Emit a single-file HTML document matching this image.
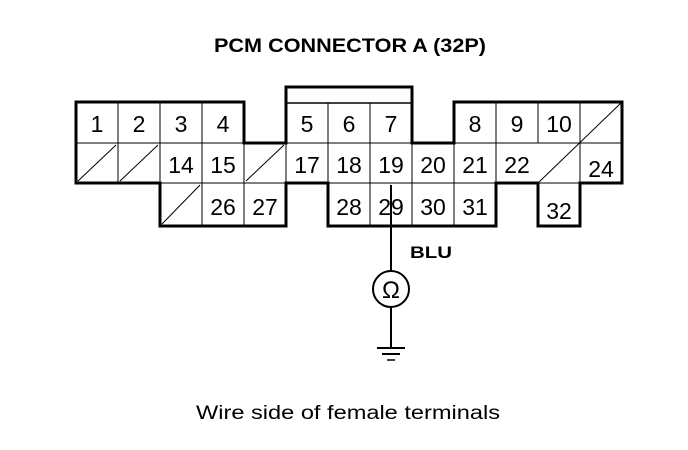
<!DOCTYPE html>
<html><head><style>
body{margin:0;background:#fff}
svg{display:block}
text{font-family:"Liberation Sans",sans-serif}
</style></head><body>
<svg width="688" height="450" viewBox="0 0 688 450">
<rect width="688" height="450" fill="#fff"/>
<text x="350" y="52" text-anchor="middle" font-size="19" font-weight="bold" textLength="272" lengthAdjust="spacingAndGlyphs">PCM CONNECTOR A (32P)</text>
<g stroke="#000" stroke-width="1" fill="none">
<line x1="76" y1="143" x2="244" y2="143"/><line x1="286" y1="143" x2="412" y2="143"/><line x1="454" y1="143" x2="622" y2="143"/>
<line x1="160" y1="183" x2="286" y2="183"/><line x1="328" y1="183" x2="496" y2="183"/><line x1="538" y1="183" x2="580" y2="183"/>
<line x1="286" y1="103" x2="412" y2="103"/>
<line x1="118" y1="102" x2="118" y2="183"/><line x1="160" y1="102" x2="160" y2="183"/><line x1="202" y1="102" x2="202" y2="226"/>
<line x1="244" y1="143" x2="244" y2="226"/><line x1="286" y1="143" x2="286" y2="183"/>
<line x1="328" y1="103" x2="328" y2="226"/><line x1="370" y1="103" x2="370" y2="226"/>
<line x1="412" y1="143" x2="412" y2="226"/><line x1="454" y1="143" x2="454" y2="226"/>
<line x1="496" y1="102" x2="496" y2="183"/><line x1="538" y1="102" x2="538" y2="143"/>
<line x1="580" y1="102" x2="580" y2="143"/><line x1="580" y1="143" x2="580" y2="183"/>
<line x1="78" y1="181" x2="116" y2="145"/><line x1="120" y1="181" x2="158" y2="145"/>
<line x1="246" y1="181" x2="284" y2="145"/><line x1="162" y1="224" x2="200" y2="185"/>
<line x1="538" y1="183" x2="622" y2="102"/>
</g>
<path d="M76 102 H244 V143 H286 V87 H412 V143 H454 V102 H622 V183 H580 V226 H538 V183 H496 V226 H328 V183 H286 V226 H160 V183 H76 Z" fill="none" stroke="#000" stroke-width="3"/>
<line x1="286" y1="103" x2="412" y2="103" stroke="#000" stroke-width="1.5"/>
<g font-size="23" text-anchor="middle">
<text x="97" y="132">1</text><text x="139" y="132">2</text><text x="181" y="132">3</text><text x="223" y="132">4</text>
<text x="307" y="132">5</text><text x="349" y="132">6</text><text x="391" y="132">7</text>
<text x="475" y="132">8</text><text x="517" y="132">9</text><text x="559" y="132">10</text>
<text x="181" y="173">14</text><text x="223" y="173">15</text><text x="307" y="173">17</text><text x="349" y="173">18</text>
<text x="391" y="173">19</text><text x="433" y="173">20</text><text x="475" y="173">21</text><text x="517" y="173">22</text><text x="601" y="177">24</text>
<text x="223" y="215">26</text><text x="265" y="215">27</text><text x="349" y="215">28</text><text x="391" y="215">29</text>
<text x="433" y="215">30</text><text x="475" y="215">31</text><text x="559" y="219">32</text>
</g>
<line x1="391" y1="185" x2="391" y2="348" stroke="#000" stroke-width="2"/>
<circle cx="391" cy="289" r="18" fill="#fff" stroke="#000" stroke-width="2"/>
<text x="391" y="298" text-anchor="middle" font-size="24">Ω</text>
<line x1="377" y1="348" x2="405" y2="348" stroke="#000" stroke-width="2"/>
<line x1="382" y1="354" x2="400" y2="354" stroke="#000" stroke-width="2"/>
<line x1="387" y1="360" x2="395" y2="360" stroke="#000" stroke-width="1.5"/>
<text x="410" y="258" font-size="17" font-weight="bold" textLength="42" lengthAdjust="spacingAndGlyphs">BLU</text>
<text x="348" y="419" text-anchor="middle" font-size="19" textLength="304" lengthAdjust="spacingAndGlyphs">Wire side of female terminals</text>
</svg>
</body></html>
